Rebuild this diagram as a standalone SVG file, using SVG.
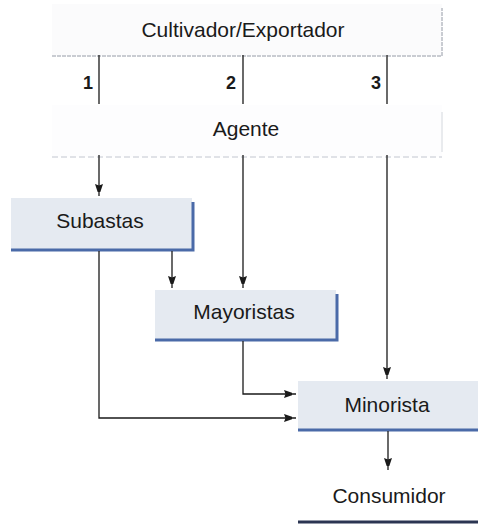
<svg xmlns="http://www.w3.org/2000/svg" width="478" height="524" viewBox="0 0 478 524">
<defs>
<marker id="ah" markerWidth="8" markerHeight="14" refX="12" refY="4" orient="auto" markerUnits="userSpaceOnUse">
<path d="M0,0 L12,4 L0,8 L1.5,4 Z" fill="#1a1a1a"/>
</marker>
</defs>
<style>
.t{font-family:"Liberation Sans",Arial,sans-serif;font-size:21px;fill:#1a1a1a;text-anchor:middle}
.n{font-family:"Liberation Sans",Arial,sans-serif;font-size:18px;font-weight:bold;fill:#1a1a1a;text-anchor:middle}
.box{fill:#e5eaf1}
.sh{fill:none;stroke:#4a6aa8;stroke-width:3}
.faint{fill:none;stroke:#c9ccd2;stroke-width:2}
.c{fill:none;stroke:#1a1a1a;stroke-width:1.3}
</style>
<rect width="478" height="524" fill="#ffffff"/>
<g id="cultivador">
<rect x="52" y="4" width="390" height="52" fill="#fbfbfc"/>
<polyline class="faint" points="52,56 442,56 442,8" stroke-dasharray="4,1"/>
<text class="t" x="243" y="37">Cultivador/Exportador</text>
</g>
<g id="agente">
<rect x="52" y="105" width="390" height="52" fill="#fdfdfe"/>
<line x1="52" y1="157" x2="442" y2="157" stroke="#d6d9df" stroke-width="1.5" stroke-dasharray="6,3"/>
<line x1="442" y1="112" x2="442" y2="152" stroke="#e2e4e8" stroke-width="1.5"/>
<text class="t" x="246" y="136">Agente</text>
</g>
<g id="subastas">
<rect class="box" x="11" y="198" width="181" height="52"/>
<polyline class="sh" points="11,250 193,250 193,202"/>
<text class="t" x="100" y="228">Subastas</text>
</g>
<g id="mayoristas">
<rect class="box" x="155" y="290" width="181" height="50"/>
<polyline class="sh" points="155,340 337,340 337,294"/>
<text class="t" x="244" y="319">Mayoristas</text>
</g>
<g id="minorista">
<rect class="box" x="298" y="381" width="180" height="49"/>
<line class="sh" x1="298" y1="430" x2="478" y2="430"/>
<text class="t" x="387" y="412">Minorista</text>
</g>
<g id="consumidor">
<text class="t" x="389" y="503">Consumidor</text>
<line x1="298" y1="522" x2="478" y2="522" stroke="#2b3552" stroke-width="3"/>
</g>
<g id="labels">
<text class="n" x="88" y="89">1</text>
<text class="n" x="231" y="89">2</text>
<text class="n" x="376" y="89">3</text>
</g>
<g id="connectors">
<line class="c" x1="99" y1="55" x2="99" y2="104"/>
<line class="c" x1="243" y1="55" x2="243" y2="104"/>
<line class="c" x1="387" y1="55" x2="387" y2="104"/>
<line class="c" x1="99" y1="155" x2="99" y2="196" marker-end="url(#ah)"/>
<line class="c" x1="243" y1="155" x2="243" y2="288" marker-end="url(#ah)"/>
<line class="c" x1="387" y1="155" x2="387" y2="379" marker-end="url(#ah)"/>
<line class="c" x1="172" y1="251" x2="172" y2="288" marker-end="url(#ah)"/>
<polyline class="c" points="243,341 243,394 296,394" marker-end="url(#ah)"/>
<polyline class="c" points="99,251 99,418 296,418" marker-end="url(#ah)"/>
<line class="c" x1="388" y1="431" x2="388" y2="470" marker-end="url(#ah)"/>
</g>
</svg>
